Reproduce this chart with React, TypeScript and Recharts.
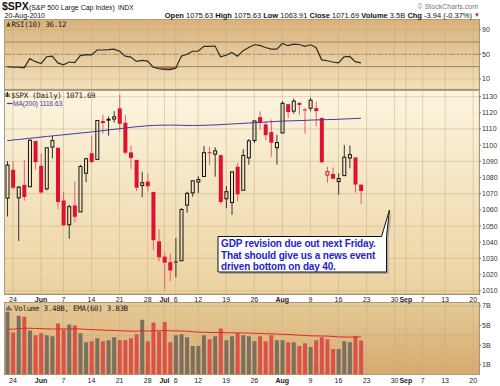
import React from 'react';
import {
  ComposedChart,
  Bar,
  Line,
  Area,
  XAxis,
  YAxis,
  CartesianGrid,
  ReferenceLine,
  Cell,
} from 'recharts';

// trading days May 21 .. Aug 20 2010, then empty future days up to Sep 20
const TOTAL_DAYS = 84;
const PREV_CLOSE = 1071.59;

const opens = [
  1067.26, 1084.78, 1067.42, 1075.51, 1074.27, 1102.59, 1087.3, 1073.01, 1098.82, 1098.43,
  1065.84, 1050.81, 1062.75, 1058.77, 1082.65, 1095.0, 1091.21, 1114.02, 1115.98, 1116.16,
  1122.79, 1113.9, 1095.57, 1090.93, 1075.1, 1077.5, 1071.1, 1040.56, 1031.1, 1027.65,
  1028.09, 1028.54, 1062.92, 1070.5, 1077.23, 1080.65, 1095.61, 1094.46, 1093.85, 1066.85,
  1064.53, 1086.67, 1072.14, 1092.17, 1102.89, 1117.36, 1112.84, 1108.07, 1098.44, 1107.53,
  1125.34, 1121.06, 1125.78, 1122.07, 1122.8, 1122.92, 1116.89, 1081.48, 1082.22, 1077.49,
  1081.16, 1092.08, 1092.44, 1075.63,
];
const highs = [
  1090.16, 1089.95, 1074.75, 1090.75, 1103.52, 1102.59, 1094.77, 1098.56, 1105.67, 1098.43,
  1071.36, 1063.15, 1077.74, 1087.85, 1092.25, 1105.91, 1115.59, 1118.74, 1117.72, 1121.01,
  1131.23, 1118.5, 1099.64, 1090.93, 1083.56, 1082.6, 1071.1, 1048.08, 1033.58, 1032.95,
  1042.5, 1060.89, 1071.25, 1078.16, 1080.78, 1099.46, 1099.08, 1098.66, 1093.85, 1074.7,
  1083.94, 1088.96, 1097.5, 1103.73, 1115.01, 1120.95, 1114.66, 1115.9, 1106.44, 1127.3,
  1125.44, 1128.75, 1126.56, 1123.06, 1129.24, 1127.16, 1116.89, 1086.72, 1086.25, 1082.62,
  1100.14, 1099.77, 1092.44, 1075.63,
];
const lows = [
  1055.9, 1072.7, 1040.78, 1065.59, 1074.27, 1084.78, 1069.89, 1072.03, 1091.81, 1060.5,
  1049.86, 1042.17, 1052.25, 1058.77, 1077.12, 1089.03, 1091.21, 1107.13, 1105.87, 1113.93,
  1108.24, 1094.18, 1085.31, 1071.6, 1067.89, 1071.45, 1035.18, 1028.33, 1010.91, 1015.93,
  1018.35, 1028.54, 1058.24, 1068.1, 1070.45, 1080.65, 1087.68, 1080.53, 1063.32, 1061.11,
  1056.88, 1065.25, 1072.14, 1087.88, 1101.3, 1109.78, 1103.11, 1092.82, 1088.01, 1107.53,
  1116.76, 1119.46, 1118.81, 1107.17, 1120.91, 1111.58, 1088.55, 1076.69, 1079.0, 1069.49,
  1081.16, 1085.76, 1070.66, 1063.91,
];
const closes = [
  1087.69, 1073.65, 1074.03, 1067.95, 1103.06, 1089.41, 1070.71, 1098.38, 1102.83, 1064.88,
  1050.47, 1062.0, 1055.69, 1086.84, 1091.6, 1089.63, 1115.23, 1114.61, 1116.04, 1117.51,
  1113.2, 1095.31, 1092.04, 1073.69, 1076.76, 1074.57, 1041.24, 1030.71, 1027.37, 1022.58,
  1028.06, 1060.27, 1070.25, 1077.96, 1078.75, 1095.34, 1095.17, 1096.48, 1064.88, 1071.25,
  1083.48, 1069.59, 1093.67, 1102.66, 1115.01, 1113.84, 1106.13, 1101.53, 1101.6, 1125.86,
  1120.46, 1127.24, 1125.81, 1121.64, 1127.79, 1121.06, 1089.47, 1083.61, 1079.25, 1079.38,
  1092.54, 1094.16, 1075.63, 1071.69,
];
const ma200 = [
  1102.8, 1103.2, 1103.5, 1103.9, 1104.3, 1104.6, 1105.0, 1105.4, 1105.7, 1106.1,
  1106.4, 1106.8, 1107.1, 1107.5, 1107.8, 1108.2, 1108.6, 1109.0, 1109.4, 1109.8,
  1110.2, 1110.6, 1111.0, 1111.4, 1111.7, 1112.0, 1112.2, 1112.3, 1112.4, 1112.4,
  1112.4, 1112.3, 1112.2, 1112.2, 1112.2, 1112.3, 1112.4, 1112.5, 1112.7, 1112.9,
  1113.1, 1113.3, 1113.5, 1113.7, 1113.9, 1114.1, 1114.3, 1114.5, 1114.7, 1114.9,
  1115.0, 1115.1, 1115.2, 1115.3, 1115.5, 1115.6, 1115.7, 1115.8, 1115.9, 1116.0,
  1116.2, 1116.3, 1116.5, 1116.63,
];
const rsi10 = [
  30, 29, 29, 28, 43, 38, 35, 46, 47, 36,
  33, 37.5, 36.5, 48, 49.5, 49, 57, 57, 57.5, 58.5,
  55, 47, 45.5, 38.5, 40, 39, 29, 26.5, 25.5, 25,
  27.5, 47, 50, 55, 55, 63, 63, 63.5, 46, 48.5,
  53, 47, 56, 61, 65.5, 64.5, 61, 58.5, 58.5, 67.5,
  64, 66.5, 66, 63, 65.5, 61, 41, 39.5, 37.5, 36,
  46, 46.5, 38, 36.12,
];
// volume in billions
const volumes = [
  6.4, 4.3, 6.0, 5.9, 4.5, 4.0, 4.2, 4.0, 3.9, 5.2,
  4.6, 5.1, 5.0, 4.2, 3.3, 3.4, 3.7, 3.4, 3.5, 3.8,
  3.5, 3.5, 3.7, 4.1, 5.6, 3.4, 5.3, 4.4, 5.35, 3.3,
  4.0, 4.1, 3.8, 2.9, 2.9, 4.0, 3.6, 3.9, 4.7, 3.5,
  3.9, 4.2, 4.0, 3.9, 3.4, 3.9, 3.4, 4.0, 3.5, 3.5,
  3.3, 3.3, 2.9, 3.2, 2.8, 3.5, 3.8, 3.6, 2.6, 2.6,
  3.4, 3.3, 3.9, 3.48,
];
const volEma60 = [
  4.66, 4.62, 4.68, 4.72, 4.72, 4.7, 4.68, 4.66, 4.64, 4.65,
  4.65, 4.66, 4.66, 4.65, 4.61, 4.58, 4.56, 4.53, 4.51, 4.49,
  4.47, 4.45, 4.43, 4.42, 4.46, 4.43, 4.46, 4.46, 4.49, 4.46,
  4.45, 4.44, 4.42, 4.37, 4.32, 4.32, 4.29, 4.28, 4.29, 4.26,
  4.25, 4.25, 4.24, 4.23, 4.2, 4.19, 4.16, 4.16, 4.13, 4.11,
  4.08, 4.05, 4.01, 3.99, 3.95, 3.94, 3.93, 3.92, 3.88, 3.84,
  3.83, 3.82, 3.83, 3.83,
];

const tickIdx = [1, 6, 10, 15, 20, 25, 28, 30, 34, 39, 44, 49, 54, 59, 64, 69, 71, 74, 78, 83];
const tickLabels = ['24', 'Jun', '7', '14', '21', '28', 'Jul', '6', '12', '19', '26', 'Aug', '9', '16', '23', '30', 'Sep', '7', '13', '20'];

const rows = Array.from({ length: TOTAL_DAYS }, (_, i) => {
  const has = i < closes.length;
  return {
    i,
    o: has ? opens[i] : null,
    h: has ? highs[i] : null,
    l: has ? lows[i] : null,
    c: has ? closes[i] : null,
    pc: has ? (i === 0 ? PREV_CLOSE : closes[i - 1]) : null,
    ma: has ? ma200[i] : null,
    rsi: has ? rsi10[i] : null,
    vol: has ? volumes[i] : null,
    ema: has ? volEma60[i] : null,
  };
});

const FONT = '"Liberation Sans", Arial, sans-serif';
const MONO = '"DejaVu Sans Mono", monospace';
const RED = '#e0102f';
const GRID = '#c4a97c';

function Candle(props: any) {
  const { x, y, width, height, payload } = props;
  if (!payload || payload.o == null) return null;
  const { o, h, l, c, pc } = payload;
  const top = Math.min(y, y + height);
  const hh = Math.abs(height);
  const range = h - l || 1;
  const py = (p: number) => top + ((h - p) / range) * hh;
  const up = c >= pc;
  const hollow = c > o;
  const col = up ? '#111' : RED;
  const wick = up ? '#333' : '#e2606c';
  const cx = x + width / 2;
  const bt = py(Math.max(o, c));
  let bb = py(Math.min(o, c));
  if (bb - bt < 1) bb = bt + 1;
  return (
    <g>
      <line x1={cx} x2={cx} y1={top} y2={bt} stroke={wick} strokeWidth={1} />
      <line x1={cx} x2={cx} y1={bb} y2={top + hh} stroke={wick} strokeWidth={1} />
      {hollow ? (
        <rect x={x + 0.5} y={bt} width={width - 1} height={bb - bt} fill="none" stroke={col} strokeWidth={1} />
      ) : (
        <rect x={x} y={bt} width={width} height={bb - bt} fill={col} />
      )}
    </g>
  );
}

const makeTick = (baseY: number) => (props: any) => {
  const v = props.payload?.value;
  const k = tickIdx.indexOf(v);
  if (k < 0) return <g />;
  const label = tickLabels[k];
  const bold = /[A-Za-z]/.test(label);
  return (
    <text x={props.x} y={baseY} textAnchor="middle" fontSize={7} fontWeight={bold ? 700 : 400} fill="#222" fontFamily={FONT}>
      {label}
    </text>
  );
};

const yTick = { fontSize: 7, fill: '#333', fontFamily: FONT };

const panel = (top: number, height: number, from: string, to: string): React.CSSProperties => ({
  position: 'absolute',
  left: 4,
  top,
  width: 475.5,
  height,
  boxSizing: 'border-box',
  border: '1px solid #a39179',
  background: `linear-gradient(to bottom, ${from}, ${to})`,
});

const layer: React.CSSProperties = { position: 'absolute', left: 0, top: 0 };

export default function App() {
  const xProps = {
    dataKey: 'i',
    type: 'category' as const,
    scale: 'band' as const,
    ticks: tickIdx,
    interval: 0 as const,
    padding: { left: 0, right: 3 },
    tickLine: false,
    axisLine: false,
    height: 10,
  };
  return (
    <div style={{ position: 'absolute', left: 0, top: 0, width: 500, height: 386, background: '#fff', overflow: 'hidden' }}>
      <div style={panel(19, 71, '#d9b27b', '#f2e1bc')} />
      <div style={panel(90, 204.5, '#fcf5e0', '#ecd2a0')} />
      <div style={panel(302, 73, '#e6ca97', '#d6aa70')} />

      {/* RSI */}
      <div style={layer}>
        <ComposedChart width={500} height={386} data={rows} margin={{ top: 19.5, bottom: 297, left: 4.5, right: 0 }}>
          <CartesianGrid stroke={GRID} strokeOpacity={0.45} />
          <XAxis {...xProps} hide />
          <YAxis orientation="right" width={21} domain={[-6.4, 106.6]} ticks={[10, 30, 50, 70, 90]} tick={yTick} tickSize={2} tickMargin={1} axisLine={false} tickLine={{ stroke: '#777' }} allowDataOverflow />
          <ReferenceLine y={70} stroke="#9c8565" strokeWidth={1} />
          <ReferenceLine y={30} stroke="#9c8565" strokeWidth={1} />
          <ReferenceLine y={50} stroke="#a89274" strokeDasharray="6 2 2 2" />
          <Area dataKey={(d: any) => (d.rsi == null ? null : [Math.min(d.rsi, 30), 30])} stroke="none" fill="#b04a3a" fillOpacity={0.75} isAnimationActive={false} />
          <Line dataKey="rsi" stroke="#2b2b2b" strokeWidth={1.2} dot={false} isAnimationActive={false} />
        </ComposedChart>
      </div>

      {/* Price */}
      <div style={layer}>
        <ComposedChart width={500} height={386} data={rows} margin={{ top: 90.5, bottom: 82.5, left: 4.5, right: 0 }}>
          <CartesianGrid stroke={GRID} strokeOpacity={0.45} />
          <XAxis {...xProps} tick={makeTick(301.8)} />
          <YAxis orientation="right" width={21} domain={[1008.3, 1133.8]} ticks={[1010, 1020, 1030, 1040, 1050, 1060, 1070, 1080, 1090, 1100, 1110, 1120, 1130]} tick={yTick} tickSize={2} tickMargin={1} axisLine={false} tickLine={{ stroke: '#777' }} allowDataOverflow />
          <Line dataKey="ma" stroke="#3b3b9e" strokeWidth={1} dot={false} isAnimationActive={false} />
          <Bar dataKey={(d: any) => (d.o == null ? null : [d.l, d.h])} barSize={4} shape={Candle} isAnimationActive={false} />
        </ComposedChart>
      </div>

      {/* Volume */}
      <div style={layer}>
        <ComposedChart width={500} height={386} data={rows} margin={{ top: 302.5, bottom: 1.5, left: 4.5, right: 0 }}>
          <CartesianGrid stroke={GRID} strokeOpacity={0.45} />
          <XAxis {...xProps} tick={makeTick(382.5)} />
          <YAxis orientation="right" width={21} domain={[0, 7.35]} ticks={[1, 2, 3, 4, 5, 6, 7]} tickFormatter={(v: number) => `${v}B`} tick={yTick} tickSize={2} tickMargin={1} axisLine={false} tickLine={{ stroke: '#777' }} allowDataOverflow />
          <Bar dataKey="vol" barSize={4} isAnimationActive={false}>
            {rows.map((r) => (
              <Cell key={r.i} fill={r.c != null && r.c >= (r.pc as number) ? '#7b6f60' : '#d9534c'} />
            ))}
          </Bar>
          <Line dataKey="ema" stroke="#e8251c" strokeWidth={1} dot={false} isAnimationActive={false} />
        </ComposedChart>
      </div>

      {/* header, legends, note */}
      <svg width={500} height={386} style={{ ...layer, pointerEvents: 'none' }} fontFamily={FONT}>
        <text x={2} y={10} fontSize={10.5} fontWeight={700} fill="#111">$SPX</text>
        <text x={29} y={9.5} fontSize={7} fill="#111">(S&amp;P 500 Large Cap Index)</text>
        <text x={118} y={9.5} fontSize={6.5} fill="#111">INDX</text>
        <text x={4.5} y={17.5} fontSize={7} fill="#111">20-Aug-2010</text>
        <text x={478} y={8.5} fontSize={7} fill="#777" textAnchor="end">© StockCharts.com</text>
        <text x={472} y={17.5} fontSize={7.5} fill="#111" textAnchor="end">
          <tspan fontWeight={700}>Open</tspan> 1075.63 <tspan fontWeight={700}>High</tspan> 1075.63{' '}
          <tspan fontWeight={700}>Low</tspan> 1063.91 <tspan fontWeight={700}>Close</tspan> 1071.69{' '}
          <tspan fontWeight={700}>Volume</tspan> 3.5B <tspan fontWeight={700}>Chg</tspan> -3.94 (-0.37%)
        </text>
        <text x={474} y={17} fontSize={6} fill="#c0103a">▼</text>

        <path d="M6.5,26.5 L8.5,21.5 L10.5,26.5 Z" fill="#2d4a2d" />
        <text x={11.5} y={26.7} fontSize={7.5} letterSpacing={-0.3} fontFamily={MONO} fill="#222">RSI(10) 36.12</text>

        <path d="M6,93 v4 M7.5,92 v5 M9,93.5 v3.5" stroke="#222" strokeWidth={1} />
        <text x={11} y={97.5} fontSize={7.5} letterSpacing={-0.3} fontFamily={MONO} fill="#222">$SPX (Daily) 1071.69</text>
        <line x1={7} x2={12.5} y1={103.5} y2={103.5} stroke="#3b3b9e" strokeWidth={1.2} />
        <text x={13} y={105.7} fontSize={6.5} fill="#3b3b9e">MA(200) 1116.63</text>

        <path d="M7,310.5 v-3 M9,310.5 v-4.5 M11,310.5 v-2" stroke="#444" strokeWidth={1.3} />
        <text x={14} y={310.8} fontSize={7.5} letterSpacing={-0.3} fontFamily={MONO} fill="#222">Volume 3.48B, EMA(60) 3.83B</text>

        <path d="M220,238.5 L383.5,238.5 L391.5,212 L388.5,238.5 L388.5,274 L220,274 Z" fill="#888" opacity={0.6} />
        <path d="M218,236.5 L381.5,236.5 L389.5,210 L386.5,236.5 L386.5,272 L218,272 Z" fill="#fff" stroke="#111" strokeWidth={1} />
        <g fontSize={10} fontWeight={700} fill="#1e1ecc" letterSpacing={-0.15}>
          <text x={221} y={247}>GDP revision due out next Friday.</text>
          <text x={221} y={258.6}>That should give us a news event</text>
          <text x={221} y={270.2}>driven bottom on day 40.</text>
        </g>
      </svg>
    </div>
  );
}
